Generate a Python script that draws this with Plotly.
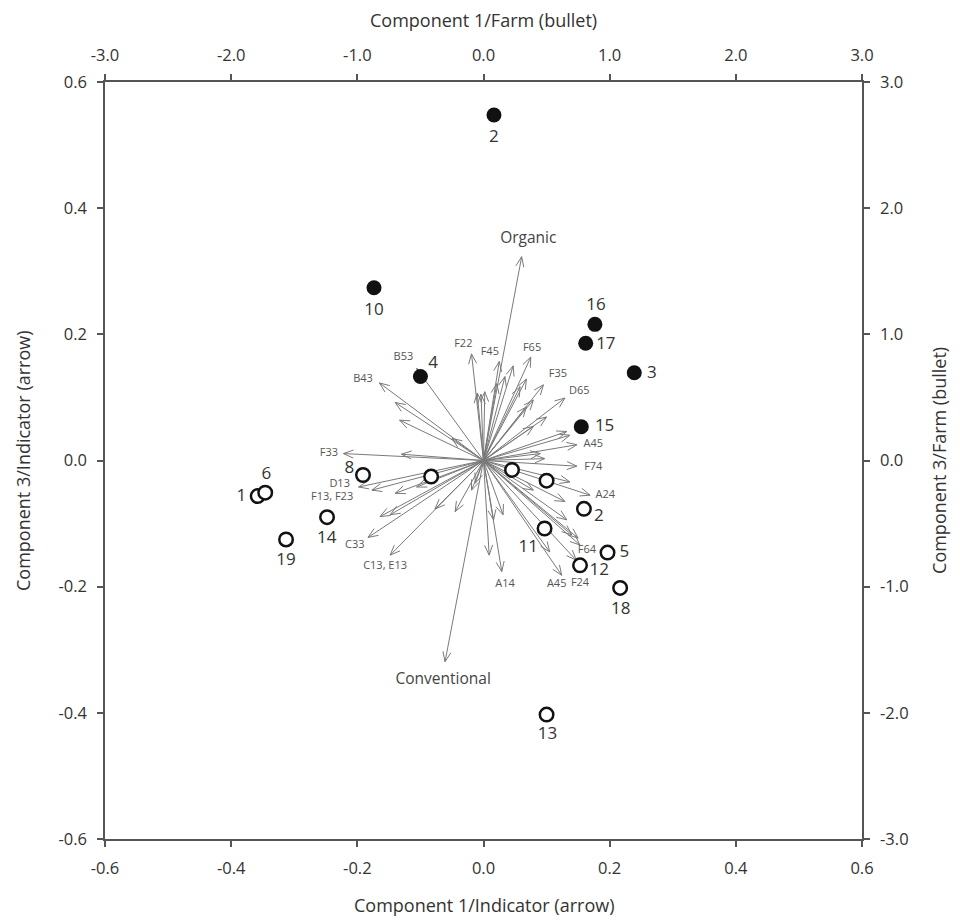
import math
import plotly.graph_objects as go

# ---------------- data ----------------
# Indicator arrows (Component 1 / Component 3 loadings), tips; all start at origin
arrow_x = [-0.165, -0.140, -0.133, -0.106, -0.050,
           -0.222, -0.130, -0.198, -0.177, -0.140, -0.106, -0.164, -0.148,
           -0.183, -0.148, -0.077, -0.045, -0.019, -0.013,
           -0.019, -0.010, -0.004, 0.002, 0.025, 0.021, 0.034, 0.047,
           0.075, 0.068, 0.058, 0.095, 0.079, 0.129, 0.100, 0.068, 0.079,
           0.132, 0.148, 0.137, 0.090, 0.097, 0.148, 0.137, 0.079, 0.169,
           0.129, 0.132, 0.140, 0.150, 0.153, 0.147, 0.105, 0.124, 0.029,
           0.009, 0.031, 0.016]
arrow_y = [0.123, 0.092, 0.064, 0.146, 0.035,
           0.011, 0.010, -0.042, -0.047, -0.052, -0.042, -0.089, -0.086,
           -0.122, -0.150, -0.077, -0.081, -0.047, -0.036,
           0.169, 0.107, 0.105, 0.109, 0.157, 0.122, 0.133, 0.150,
           0.164, 0.129, 0.117, 0.120, 0.096, 0.099, 0.069, 0.085, 0.054,
           0.046, 0.025, 0.040, 0.011, 0.003, -0.009, -0.034, -0.047, -0.055,
           -0.065, -0.094, -0.118, -0.123, -0.134, -0.158, -0.145, -0.182, -0.176,
           -0.150, -0.086, -0.094]

# Supplementary arrows
main_names = ["Organic", "Conventional"]
main_x = [0.0605, -0.061]
main_y = [0.323, -0.319]
main_label_x = [0.071, -0.064]
main_label_y = [0.351, -0.348]

# Indicator labels
ind_labels = ["F22", "F45", "F65", "F35", "D65", "B53", "B43", "A45", "F74", "A24",
              "F64", "F24", "A45", "A14", "C13, E13", "C33", "F13, F23", "D13", "F33"]
ind_label_x = [-0.032, 0.010, 0.077, 0.118, 0.152, -0.127, -0.191, 0.174, 0.174, 0.193,
               0.164, 0.153, 0.116, 0.034, -0.156, -0.204, -0.240, -0.228, -0.245]
ind_label_y = [0.184, 0.172, 0.178, 0.137, 0.109, 0.163, 0.129, 0.025, -0.011, -0.055,
               -0.143, -0.195, -0.196, -0.196, -0.167, -0.134, -0.059, -0.037, 0.012]

# Farms (Component 1 / Component 3 scores)
org_farm_x = [0.083, -0.868, -0.500, 0.883, 0.810, 1.195, 0.775]
org_farm_y = [2.738, 1.369, 0.666, 1.079, 0.929, 0.695, 0.268]
org_farm_lab = ["2", "10", "4", "16", "17", "3", "15"]
org_lab_x = [0.083, -0.868, -0.400, 0.891, 0.970, 1.335, 0.960]
org_lab_y = [2.556, 1.185, 0.770, 1.230, 0.920, 0.690, 0.266]

conv_farm_x = [-1.790, -1.730, -0.955, -0.415, -1.240, -1.565, 0.226, 0.500,
               0.796, 0.484, 0.983, 0.765, 1.083, 0.500]
conv_farm_y = [-0.282, -0.255, -0.115, -0.127, -0.449, -0.626, -0.075, -0.160,
               -0.383, -0.539, -0.730, -0.831, -1.010, -2.014]
conv_farm_lab = ["1", "6", "8", "", "14", "19", "", "", "2", "11", "5", "12", "18", "13"]
conv_lab_x = [-1.920, -1.720, -1.063, None, -1.243, -1.565, None, None,
              0.915, 0.355, 1.116, 0.918, 1.087, 0.508]
conv_lab_y = [-0.290, -0.115, -0.067, None, -0.617, -0.796, None, None,
              -0.445, -0.688, -0.730, -0.873, -1.185, -2.175]

ind_ticks = [-0.6, -0.4, -0.2, 0.0, 0.2, 0.4, 0.6]
ind_ticktext = ["-0.6", "-0.4", "-0.2", "0.0", "0.2", "0.4", "0.6"]
farm_ticks = [-3, -2, -1, 0, 1, 2, 3]
farm_ticktext = ["-3.0", "-2.0", "-1.0", "0.0", "1.0", "2.0", "3.0"]

# ---------------- build ----------------
FONT = "Open Sans"
AX = "#555555"
TXT = "#333333"


def arrow_path(xs, ys, head=0.017, ang=22):
    px, py = [], []
    a = math.radians(ang)
    for x, y in zip(xs, ys):
        n = math.hypot(x, y)
        dx, dy = x / n, y / n
        px += [0, x, None]
        py += [0, y, None]
        for s in (a, -a):
            rx = dx * math.cos(s) - dy * math.sin(s)
            ry = dx * math.sin(s) + dy * math.cos(s)
            px += [x - head * rx, x, None]
            py += [y - head * ry, y, None]
    return px, py


fig = go.Figure()

ax_, ay_ = arrow_path(arrow_x, arrow_y)
fig.add_trace(go.Scatter(x=ax_, y=ay_, mode="lines",
                         line=dict(color="#7a7a7a", width=1),
                         hoverinfo="skip", showlegend=False))
mx_, my_ = arrow_path(main_x, main_y)
fig.add_trace(go.Scatter(x=mx_, y=my_, mode="lines",
                         line=dict(color="#7a7a7a", width=1),
                         hoverinfo="skip", showlegend=False))

fig.add_trace(go.Scatter(x=ind_label_x, y=ind_label_y, mode="text", text=ind_labels,
                         textfont=dict(family=FONT, size=11, color="#555555"),
                         hoverinfo="skip", showlegend=False))
fig.add_trace(go.Scatter(x=main_label_x, y=main_label_y, mode="text", text=main_names,
                         textfont=dict(family=FONT, size=15.5, color="#444444"),
                         hoverinfo="skip", showlegend=False))

# farms on secondary axes
fig.add_trace(go.Scatter(x=org_farm_x, y=org_farm_y, mode="markers", xaxis="x2", yaxis="y2",
                         marker=dict(size=15, color="#111111", line=dict(width=0)),
                         showlegend=False))
fig.add_trace(go.Scatter(x=conv_farm_x, y=conv_farm_y, mode="markers", xaxis="x2", yaxis="y2",
                         marker=dict(size=13.5, color="white", line=dict(width=2.5, color="#111111")),
                         showlegend=False))

fig.add_trace(go.Scatter(x=org_lab_x, y=org_lab_y, mode="text", text=org_farm_lab,
                         xaxis="x2", yaxis="y2",
                         textfont=dict(family=FONT, size=17, color=TXT),
                         hoverinfo="skip", showlegend=False))
cl_x = [v for v in conv_lab_x if v is not None]
cl_y = [v for v in conv_lab_y if v is not None]
cl_t = [t for t in conv_farm_lab if t != ""]
fig.add_trace(go.Scatter(x=cl_x, y=cl_y, mode="text", text=cl_t,
                         xaxis="x2", yaxis="y2",
                         textfont=dict(family=FONT, size=17, color=TXT),
                         hoverinfo="skip", showlegend=False))

axis_common = dict(showline=True, linecolor=AX, linewidth=1.5, ticks="outside",
                   ticklen=6, tickcolor=AX, tickwidth=1.5, showgrid=False, zeroline=False,
                   automargin=False, ticklabelstandoff=7,
                   tickfont=dict(family=FONT, size=16.5, color=TXT))

fig.update_layout(
    width=952, height=913,
    margin=dict(l=97, r=98, t=74, b=82),
    paper_bgcolor="white", plot_bgcolor="white",
    xaxis=dict(range=[-0.6, 0.6], tickvals=ind_ticks, ticktext=ind_ticktext, **axis_common),
    yaxis=dict(range=[-0.6, 0.6], tickvals=ind_ticks, ticktext=ind_ticktext, **axis_common),
    xaxis2=dict(range=[-3, 3], tickvals=farm_ticks, ticktext=farm_ticktext,
                overlaying="x", side="top", anchor="y", **axis_common),
    yaxis2=dict(range=[-3, 3], tickvals=farm_ticks, ticktext=farm_ticktext,
                overlaying="y", side="right", anchor="x", **axis_common),
)

title_font = dict(family=FONT, size=18, color=TXT)
fig.add_annotation(text="Component 1/Indicator (arrow)", xref="paper", yref="paper",
                   x=0.5, y=-0.087, xanchor="center", yanchor="middle",
                   showarrow=False, font=title_font)
fig.add_annotation(text="Component 1/Farm (bullet)", xref="paper", yref="paper",
                   x=0.5, y=1.0825, xanchor="center", yanchor="middle",
                   showarrow=False, font=title_font)
fig.add_annotation(text="Component 3/Indicator (arrow)", xref="paper", yref="paper",
                   x=-0.109, y=0.5, xanchor="center", yanchor="middle", textangle=-90,
                   showarrow=False, font=title_font)
fig.add_annotation(text="Component 3/Farm (bullet)", xref="paper", yref="paper",
                   x=1.101, y=0.5, xanchor="center", yanchor="middle", textangle=-90,
                   showarrow=False, font=title_font)

fig.write_html("out.html")
